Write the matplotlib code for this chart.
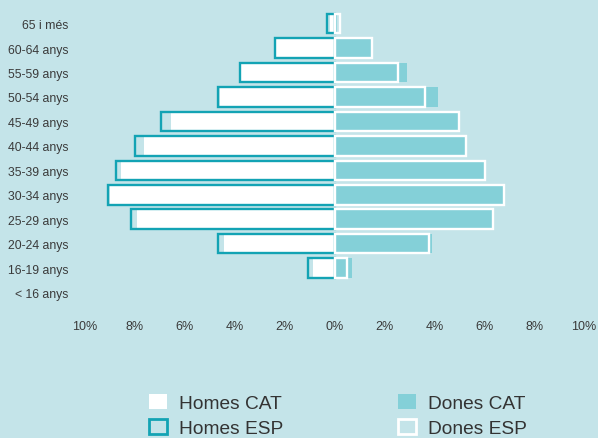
import matplotlib
matplotlib.use('Agg')
import matplotlib.pyplot as plt
from matplotlib.patches import Patch

plt.rcParams['font.family'] = ['Liberation Sans', 'DejaVu Sans']

# age groups, bottom to top
grups = ['< 16 anys', '16-19 anys', '20-24 anys', '25-29 anys', '30-34 anys',
         '35-39 anys', '40-44 anys', '45-49 anys', '50-54 anys', '55-59 anys',
         '60-64 anys', '65 i més']
homes_cat = [0, 0.85, 4.45, 7.92, 9.0, 8.56, 7.65, 6.56, 4.6, 3.75, 2.35, 0.2]
homes_esp = [0, 1.05, 4.68, 8.17, 9.07, 8.77, 8.0, 6.94, 4.68, 3.78, 2.4, 0.32]
dones_cat = [0, 0.72, 3.92, 6.3, 6.76, 6.01, 5.27, 4.95, 4.16, 2.92, 1.45, 0.1]
dones_esp = [0, 0.51, 3.79, 6.35, 6.8, 6.03, 5.29, 5.0, 3.64, 2.56, 1.5, 0.2]
ticks = [-10, -8, -6, -4, -2, 0, 2, 4, 6, 8, 10]

fons = '#c4e4e9'
blau = '#13a3b4'
clar = '#84d0d8'

fig = plt.figure(figsize=(5.98, 4.39), dpi=100, facecolor=fons)
ax = fig.add_axes([0.1422, 0.3036, 0.8344, 0.668], facecolor=fons)

h = 0.8


def barres(vals, signe, **kw):
    # skip empty groups so no zero-width outline is drawn
    idx = [i for i, v in enumerate(vals) if v > 0]
    ax.barh(idx, [signe * vals[i] for i in idx], height=h, **kw)


barres(homes_cat, -1, color='white', linewidth=0)
barres(homes_esp, -1, fill=False, edgecolor=blau, linewidth=1.7)
barres(dones_cat, 1, color=clar, linewidth=0)
barres(dones_esp, 1, fill=False, edgecolor='white', linewidth=1.7)

ax.set_xlim(-10, 10)
ax.set_ylim(-0.5, len(grups) - 0.5)
ax.set_xticks(ticks)
ax.set_xticklabels(['%d%%' % abs(t) for t in ticks], fontsize=9)
ax.set_yticks(range(len(grups)))
ax.set_yticklabels(grups, fontsize=8.8)
ax.tick_params(axis='both', length=0, colors='#3a3a3a')
ax.tick_params(axis='x', pad=11)
ax.tick_params(axis='y', pad=12)
for s in ax.spines.values():
    s.set_visible(False)

handles = [Patch(facecolor='white', edgecolor='none'),
           Patch(facecolor=fons, edgecolor=blau, linewidth=2),
           Patch(facecolor=clar, edgecolor='none'),
           Patch(facecolor=fons, edgecolor='white', linewidth=2)]
labels = ['Homes CAT', 'Homes ESP', 'Dones CAT', 'Dones ESP']
fig.legend(handles, labels, ncol=2, loc='upper left',
           bbox_to_anchor=(149 / 598, 1 - 395 / 439), frameon=False,
           fontsize=13.8, handlelength=0.95, handleheight=0.85,
           handletextpad=0.6, columnspacing=6.0, labelspacing=0.33,
           borderpad=0, borderaxespad=0, labelcolor='#333333')

fig.savefig('out.png', dpi=100, facecolor=fons)
